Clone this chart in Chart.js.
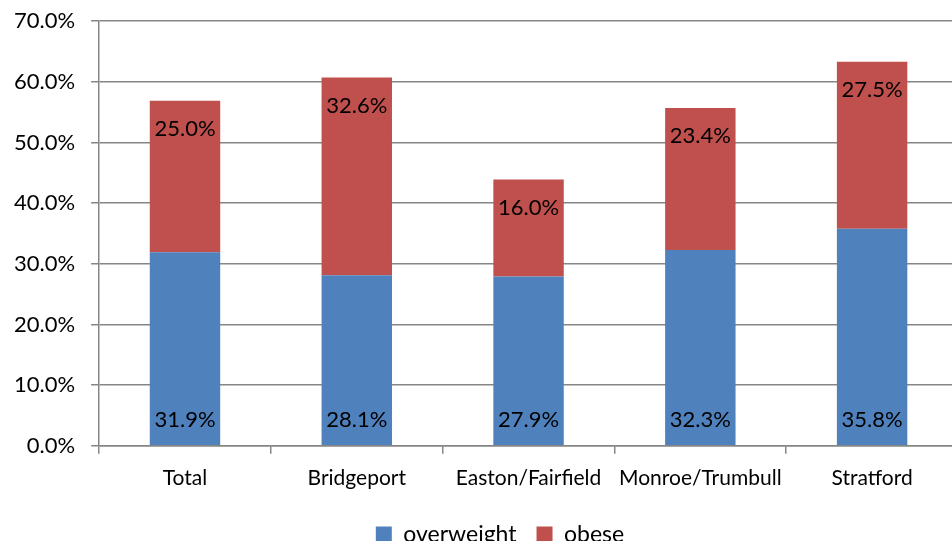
<!DOCTYPE html>
<html>
<head>
<meta charset="utf-8">
<script src="https://cdn.jsdelivr.net/npm/chart.js@4"></script>
<style>
  html, body { margin: 0; padding: 0; background: #fff; overflow: hidden; }
  #wrap { width: 952px; height: 541px; overflow: hidden; position: relative; }
  #box { position: absolute; left: -2px; top: -8px; width: 960px; height: 564px; }
</style>
</head>
<body>
<div id="wrap"><div id="box"><canvas id="chart"></canvas></div></div>
<script>
const categories = ['Total', 'Bridgeport', 'Easton/Fairfield', 'Monroe/Trumbull', 'Stratford'];
const overweight = [31.9, 28.1, 27.9, 32.3, 35.8];
const obese = [25.0, 32.6, 16.0, 23.4, 27.5];

const FONT = 'Lato, "Liberation Sans", sans-serif';

// labels inside each segment: overweight at the base, obese near the top
const barLabels = {
  id: 'barLabels',
  afterDatasetsDraw(chart) {
    const ctx = chart.ctx;
    ctx.save();
    ctx.font = '22px ' + FONT;
    ctx.fillStyle = '#000';
    ctx.textAlign = 'center';
    ctx.textBaseline = 'middle';
    chart.data.datasets.forEach((ds, i) => {
      chart.getDatasetMeta(i).data.forEach((bar, j) => {
        const y = i === 0 ? bar.base - 25 : bar.y + 28;
        ctx.fillText(ds.data[j].toFixed(1) + '%', bar.x, y);
      });
    });
    ctx.restore();
  }
};

// the original legend sits a bit right of the canvas centre
const legendShift = {
  id: 'legendShift',
  afterLayout(chart) {
    chart.legend.left += 22;
    chart.legend.right += 22;
  }
};

new Chart(document.getElementById('chart'), {
  type: 'bar',
  data: {
    labels: categories,
    datasets: [
      { label: 'overweight', data: overweight, backgroundColor: '#4F81BD' },
      { label: 'obese', data: obese, backgroundColor: '#C0504D' }
    ]
  },
  options: {
    responsive: true,
    maintainAspectRatio: false,
    animation: false,
    layout: { padding: 0 },
    datasets: { bar: { barPercentage: 0.41, categoryPercentage: 1 } },
    plugins: {
      tooltip: { enabled: false },
      legend: {
        position: 'bottom',
        labels: {
          font: { family: FONT, size: 23 },
          color: '#000',
          boxWidth: 16,
          boxHeight: 16,
          padding: 20
        }
      }
    },
    scales: {
      x: {
        stacked: true,
        grid: {
          offset: true,
          drawOnChartArea: false,
          color: '#868686',
          lineWidth: 1.5,
          tickLength: 8
        },
        border: { color: '#868686', width: 1.5 },
        ticks: {
          font: { family: FONT, size: 21 },
          color: '#000',
          padding: 12,
          maxRotation: 0,
          minRotation: 0,
          autoSkip: false
        }
      },
      y: {
        stacked: true,
        min: 0,
        max: 70,
        grid: { color: '#868686', lineWidth: 1.5, tickLength: 8 },
        border: { color: '#868686', width: 1.5 },
        ticks: {
          stepSize: 10,
          font: { family: FONT, size: 22 },
          color: '#000',
          padding: 16,
          callback: v => v.toFixed(1) + '%'
        }
      }
    }
  },
  plugins: [barLabels, legendShift]
});
</script>
</body>
</html>
